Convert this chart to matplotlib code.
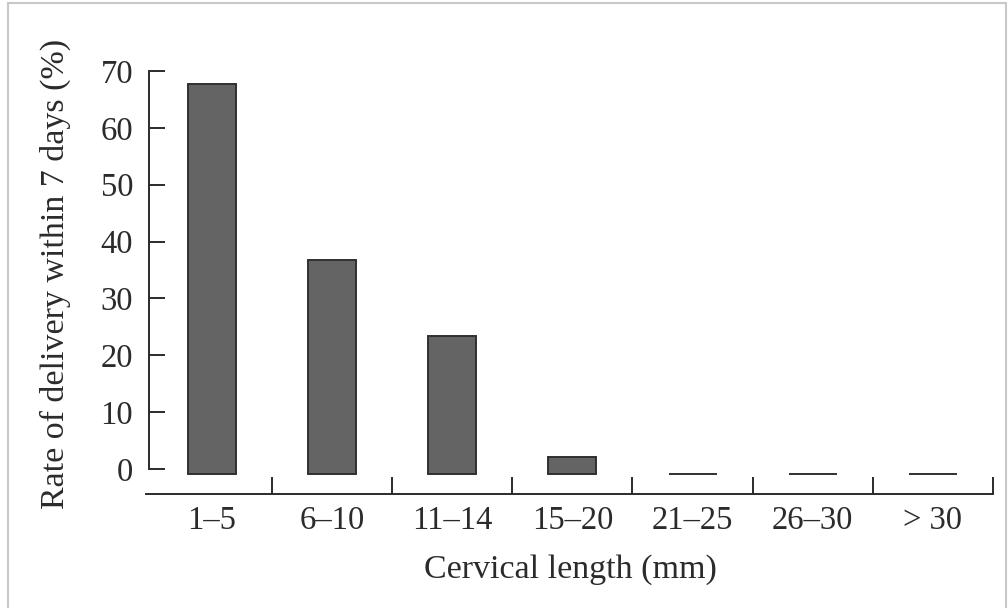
import matplotlib
matplotlib.use("Agg")
import matplotlib.pyplot as plt
from matplotlib.patches import Rectangle

# data
categories = ["1\u20135", "6\u201310", "11\u201314", "15\u201320", "21\u201325", "26\u201330", "> 30"]
rates = [67.7, 36.7, 23.4, 2.1, 0, 0, 0]
yticks = [0, 10, 20, 30, 40, 50, 60, 70]

BAR_BASE = -0.85
INK = "#2b2b2b"

plt.rcParams["font.family"] = ["Liberation Serif", "DejaVu Serif"]

fig = plt.figure(figsize=(10.08, 6.08), dpi=100)
W, H = 1008, 608

# thin grey frame around the picture
fig.patches.append(Rectangle((8 / W, -0.1), (1006 - 8) / W, 1.1 - 3 / H,
                             transform=fig.transFigure, fill=False,
                             edgecolor="#c8c8c8", linewidth=1.5))

ax = fig.add_axes([146 / W, (H - 494) / H, 847 / W, (494 - 71) / H])
ax.set_facecolor("none")

x = list(range(len(categories)))
# zero rates are drawn as a flat line at the bar base
heights = [r - BAR_BASE if r > 0 else 0 for r in rates]
ax.bar(x, heights, bottom=BAR_BASE, width=0.4, color="#646464",
       edgecolor="#303030", linewidth=1.4)

ax.set_xlim(-0.5485, 6.5)
ax.set_ylim(-4.4, 70)

for s in ("top", "right"):
    ax.spines[s].set_visible(False)
ax.spines["left"].set_position(("data", -0.5236))
ax.spines["left"].set_bounds(0, 70)
for s in ("left", "bottom"):
    ax.spines[s].set_linewidth(1.4)
    ax.spines[s].set_color(INK)

ax.set_yticks(yticks)
ax.tick_params(axis="y", direction="in", length=11.5, width=1.4, color=INK,
               pad=11.5, labelsize=23.5, labelcolor=INK)
ax.set_xticks(x)
ax.set_xticklabels(categories)
ax.tick_params(axis="x", which="major", length=0, pad=8.5, labelsize=23.5,
               labelcolor=INK)
ax.set_xticks([i + 0.5 for i in x], minor=True)
ax.tick_params(axis="x", which="minor", direction="in", length=12, width=1.4,
               color=INK)
for t in ax.yaxis.get_major_ticks():
    t.tick1line.set_clip_on(False)

fig.text(55 / W, 1 - 274 / H, "Rate of delivery within 7 days (%)",
         rotation=90, ha="center", va="center", fontsize=24.5, color=INK)
fig.text(570 / W, 1 - 570 / H, "Cervical length (mm)",
         ha="center", va="center", fontsize=24.5, color=INK)

fig.savefig("out.png", dpi=100, facecolor="white")
